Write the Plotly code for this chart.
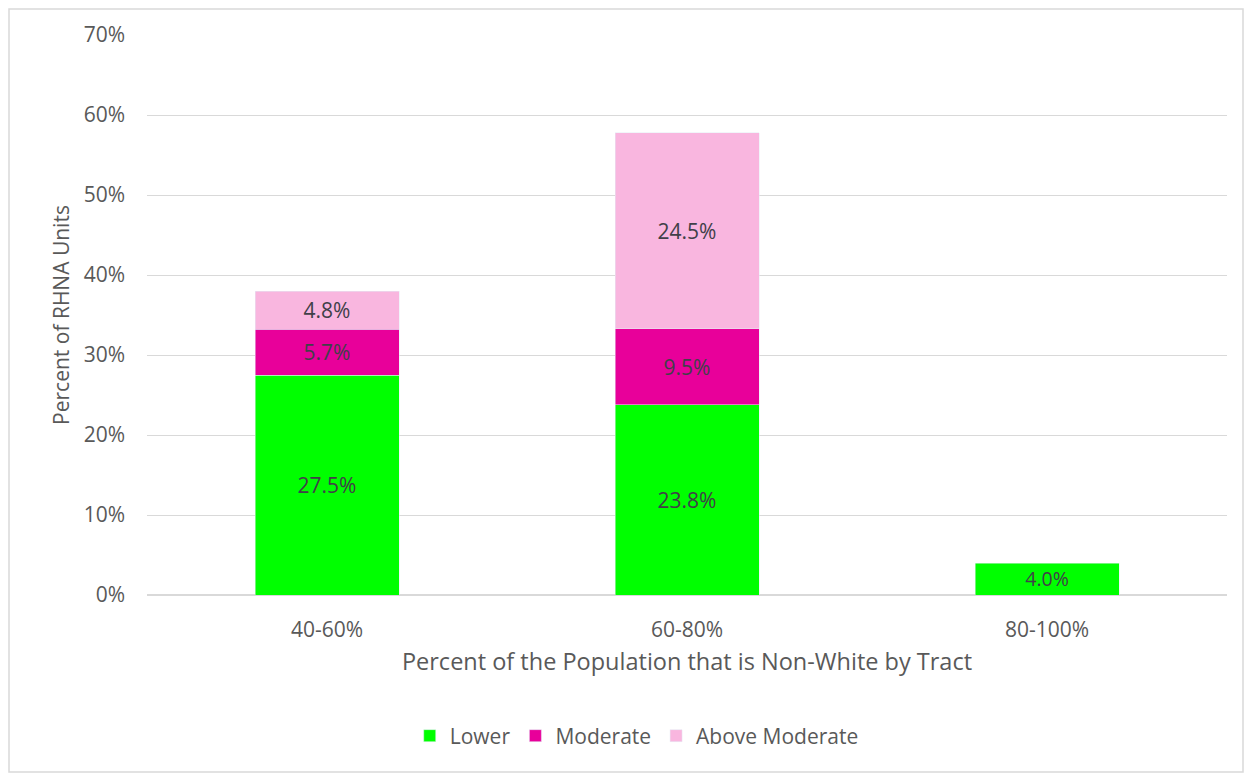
import plotly.graph_objects as go

categories = ["40-60%", "60-80%", "80-100%"]
lower = [27.5, 23.8, 4.0]
moderate = [5.7, 9.5, None]
above_moderate = [4.8, 24.5, None]
y_ticks = [0, 10, 20, 30, 40, 50, 60, 70]
y_tick_labels = [f"{v}%" for v in y_ticks]

# page body adds an 8px offset; figure coordinates are page coords minus 8
W, H = 1245, 770
L, R, T, B = 139, 26, 27, 183

def labels(vals):
    return [f"{v:.1f}%" if v is not None else "" for v in vals]

font_family = "Open Sans, Liberation Sans, sans-serif"
label_color = "#404048"
axis_color = "#595959"

fig = go.Figure()
fig.add_bar(name="Lower", x=categories, y=lower, marker_color="#00FF00",
            text=labels(lower), textposition="inside", insidetextanchor="middle",
            textfont=dict(color=label_color, size=21))
fig.add_bar(name="Moderate", x=categories, y=moderate, marker_color="#E8009A",
            text=labels(moderate), textposition="inside", insidetextanchor="middle",
            textfont=dict(color=label_color, size=21))
fig.add_bar(name="Above Moderate", x=categories, y=above_moderate, marker_color="#F9B6DF",
            text=labels(above_moderate), textposition="inside", insidetextanchor="middle",
            textfont=dict(color=label_color, size=21))

pw = W - L - R
ph = H - T - B
fig.update_layout(
    width=W, height=H,
    barmode="stack", bargap=0.6,
    paper_bgcolor="white", plot_bgcolor="white",
    margin=dict(l=L, r=R, t=T, b=B),
    font=dict(family=font_family, color=axis_color, size=20),
    legend=dict(orientation="h", x=0.505, xanchor="center", xref="container",
                y=(H - 728) / H, yanchor="middle", yref="container",
                font=dict(size=21, color=axis_color), traceorder="normal"),
    shapes=[dict(type="rect", xref="paper", yref="paper",
                 x0=(1 - L) / pw, x1=(1235 - L) / pw,
                 y0=-(764 - (H - B)) / ph, y1=1 + (T - 1) / ph,
                 line=dict(color="#d9d9d9", width=1.5), layer="below")],
)
fig.update_yaxes(range=[0, 70], tickvals=y_ticks, ticktext=y_tick_labels,
                 showgrid=True, gridcolor="#d9d9d9", gridwidth=1,
                 zeroline=True, zerolinecolor="#d9d9d9", ticks="",
                 ticklabelstandoff=21,
                 tickfont=dict(size=21, color=axis_color),
                 title=dict(text="Percent of RHNA Units", font=dict(size=21, color=axis_color), standoff=8))
fig.update_xaxes(showgrid=False, showline=False, ticks="",
                 ticklabelstandoff=20,
                 tickfont=dict(size=21, color=axis_color),
                 title=dict(text="Percent of the Population that is Non-White by Tract",
                            font=dict(size=23.5, color=axis_color), standoff=11))

fig.write_html("out.html")
